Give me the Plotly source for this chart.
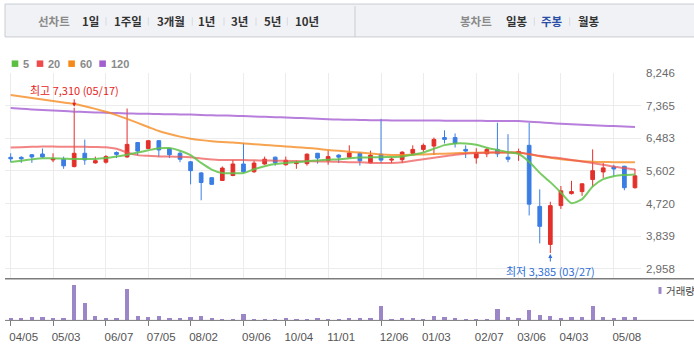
import plotly.graph_objects as go

# ---- weekly price data (won) ----
opens = [5970, 5970, 6040, 6060, 5900, 5920, 5720, 6080, 5820, 5840,
         6100, 5980, 6370, 6210, 6420, 6210, 6080, 5850, 5550, 5420,
         5345, 5480, 5790, 5580, 5790, 5975, 5770, 5800, 5800, 6080,
         5880, 6030, 5975, 6080, 5825, 6055, 5895, 5905, 6080, 6185,
         6275, 6505, 6505, 6185, 5955, 6065, 6185, 5975, 6080, 6295,
         4645, 3615, 4665, 4990, 5045, 5370, 5575, 5710, 5730, 5150]
highs = [6080, 6000, 6060, 6210, 6080, 5990, 7310, 6450, 5990, 6030,
         6130, 7290, 6380, 6430, 6440, 6220, 6130, 5870, 5570, 5430,
         5725, 5900, 6350, 5880, 5990, 5990, 5990, 5880, 6080, 6090,
         6150, 6055, 6295, 6115, 6150, 7010, 5975, 6135, 6295, 6345,
         6505, 6700, 6615, 6295, 6215, 6235, 6905, 6595, 6205, 6905,
         5105, 4770, 5195, 5335, 5265, 6185, 5815, 5770, 5740, 5655]
lows = [5840, 5820, 5820, 5950, 5840, 5660, 5700, 5770, 5800, 5800,
        5950, 5960, 6020, 6200, 5990, 5950, 5840, 5240, 4810, 5230,
        5330, 5460, 5550, 5550, 5770, 5745, 5745, 5660, 5745, 5800,
        5770, 5815, 5950, 5745, 5810, 5815, 5815, 5815, 6020, 6115,
        6035, 6345, 6235, 5950, 5800, 5975, 5975, 5840, 5875, 4400,
        3645, 3385, 4575, 4965, 4930, 5175, 5415, 5460, 5080, 5125]
closes = [5930, 5930, 5980, 5980, 5930, 5740, 6080, 5900, 5880, 5990,
          6050, 6320, 6140, 6420, 6170, 6040, 5920, 5610, 5290, 5240,
          5680, 5790, 5580, 5815, 5920, 5825, 5890, 5820, 6055, 5950,
          5990, 5975, 6090, 5875, 6030, 5895, 5920, 6110, 6185, 6295,
          6455, 6455, 6345, 6140, 6100, 6185, 6065, 5920, 6125, 4705,
          4105, 4665, 5065, 5045, 5255, 5610, 5685, 5655, 5150, 5470]

# ---- weekly volume (shares) ----
volumes = [82000, 78000, 118000, 125000, 84000, 90000, 1440000, 720000, 165000, 86000,
           80000, 1290000, 158000, 120000, 162000, 88000, 84000, 122000, 160000, 80000,
           45000, 42000, 245000, 48000, 44000, 46000, 82000, 40000, 44000, 86000,
           42000, 40000, 84000, 80000, 82000, 600000, 44000, 82000, 86000, 46000,
           160000, 122000, 84000, 40000, 42000, 44000, 445000, 118000, 84000, 400000,
           205000, 160000, 80000, 122000, 118000, 600000, 125000, 82000, 120000, 118000]

# ---- moving averages ----
ma5 = [5845, 5880, 5915, 5945, 5945, 5935, 5925, 5925, 5925, 5950,
       5990, 6040, 6100, 6160, 6215, 6220, 6150, 6030, 5820, 5640,
       5545, 5540, 5545, 5650, 5730, 5790, 5815, 5840, 5865, 5885,
       5905, 5920, 5945, 5965, 5970, 5975, 5980, 5995, 6040, 6100,
       6200, 6300, 6345, 6345, 6310, 6230, 6170, 6110, 6060, 5850,
       5550, 5300, 5020, 4730, 4840, 5180, 5380, 5460, 5490, 5505]
ma20 = [6235, 6245, 6255, 6260, 6260, 6255, 6255, 6255, 6250, 6240,
        6200, 6100, 6030, 6010, 5995, 5990, 5985, 5970, 5940, 5915,
        5895, 5900, 5895, 5890, 5885, 5880, 5875, 5870, 5865, 5860,
        5855, 5850, 5840, 5835, 5820, 5815, 5815, 5835, 5880, 5920,
        5960, 6000, 6040, 6070, 6085, 6095, 6100, 6100, 6100, 6060,
        6010, 5975, 5945, 5900, 5855, 5815, 5770, 5720, 5680, 5640]
ma60 = [7655, 7615, 7575, 7535, 7495, 7450, 7410, 7350, 7280, 7200,
        7110, 7010, 6900, 6790, 6680, 6600, 6530, 6475, 6435, 6405,
        6385, 6370, 6345, 6325, 6305, 6285, 6265, 6245, 6225, 6200,
        6170, 6145, 6120, 6100, 6075, 6050, 6035, 6030, 6040, 6050,
        6060, 6070, 6080, 6090, 6095, 6100, 6100, 6100, 6100, 6050,
        6000, 5960, 5920, 5890, 5865, 5850, 5845, 5840, 5838, 5835]
ma120 = [7300, 7285, 7265, 7250, 7235, 7220, 7205, 7195, 7185, 7175,
         7165, 7155, 7150, 7145, 7140, 7135, 7130, 7125, 7115, 7105,
         7100, 7095, 7085, 7075, 7065, 7055, 7045, 7035, 7025, 7010,
         7000, 6990, 6985, 6980, 6975, 6970, 6968, 6966, 6965, 6964,
         6963, 6962, 6960, 6958, 6956, 6955, 6953, 6951, 6950, 6935,
         6915, 6895, 6880, 6865, 6850, 6835, 6825, 6815, 6803, 6790]

# ---- axis labels ----
tick_idx = [0, 4, 9, 13, 17, 22, 26, 30, 35, 39, 44, 48, 52, 57]
tick_labels = ["04/05", "05/03", "06/07", "07/05", "08/02", "09/06", "10/04",
               "11/01", "12/06", "01/03", "02/07", "03/06", "04/03", "05/08"]
price_ticks = [2958, 3839, 4720, 5602, 6483, 7365, 8246]

high_idx, high_val, high_date = 6, 7310, "05/17"
low_idx, low_val, low_date = 51, 3385, "03/27"

W, H = 694, 344
def px(x):
    return x / W
def py(y):
    return 1 - y / H

RED = "#e3302a"
BLUE = "#3a7ee4"
NUM_FONT = "Liberation Sans, Arial, Noto Sans CJK KR"
KR_FONT = "Noto Sans CJK KR, Liberation Sans"

weeks = list(range(len(closes)))

fig = go.Figure()

ma_styles = [("5", ma5, "rgba(98,194,72,0.85)"),
             ("20", ma20, "rgba(236,80,80,0.7)"),
             ("60", ma60, "rgba(245,140,35,0.8)"),
             ("120", ma120, "rgba(165,95,210,0.8)")]
for name, vals, col in reversed(ma_styles):
    fig.add_trace(go.Scatter(x=weeks, y=vals, mode="lines", name=name,
                             line=dict(color=col, width=2, shape="spline", smoothing=0.6),
                             hoverinfo="skip", xaxis="x", yaxis="y"))

fig.add_trace(go.Candlestick(
    x=weeks, open=opens, high=highs, low=lows, close=closes,
    increasing=dict(line=dict(color=RED, width=1), fillcolor=RED),
    decreasing=dict(line=dict(color=BLUE, width=1), fillcolor=BLUE),
    whiskerwidth=0, hoverinfo="skip", xaxis="x", yaxis="y"))

fig.add_trace(go.Bar(x=weeks, y=volumes, width=0.4, marker=dict(color="#9b86c8", line=dict(width=0)),
                     hoverinfo="skip", xaxis="x2", yaxis="y2"))

xr = [-0.539, 59.57]
xdom = [px(5), px(641)]

shapes = [
    # header band
    dict(type="rect", xref="paper", yref="paper", x0=px(5), x1=px(700), y0=py(31.5), y1=py(-2),
         fillcolor="#f1f2f6", line=dict(color="#c9ccd2", width=1), layer="below"),
    dict(type="line", xref="paper", yref="paper", x0=px(355), x1=px(355), y0=py(31.5), y1=py(0),
         line=dict(color="#c9ccd2", width=1)),
    # panel lines
    dict(type="line", xref="paper", yref="paper", x0=px(5), x1=px(694), y0=py(277.5), y1=py(277.5),
         line=dict(color="#7c7c7c", width=1.5)),
    dict(type="line", xref="paper", yref="paper", x0=px(5), x1=px(694), y0=py(320), y1=py(320),
         line=dict(color="#7c7c7c", width=1)),
    # volume legend mark
    dict(type="rect", xref="paper", yref="paper", x0=px(658.5), x1=px(661.5), y0=py(293), y1=py(286),
         fillcolor="#9b86c8", line=dict(width=0)),
]

annotations = []

# header menu
def head(text, xc, color, bold=True, size=11.5):
    t = f"<b>{text}</b>" if bold else text
    annotations.append(dict(text=t, x=px(xc), y=py(15.5), xref="paper", yref="paper",
                            xanchor="center", yanchor="middle", showarrow=False,
                            font=dict(family=KR_FONT, size=size, color=color)))

head("선차트", 54, "#8a8a8a")
for t, xc in [("1일", 90.8), ("1주일", 128.3), ("3개월", 170.8), ("1년", 206.3),
              ("3년", 239.7), ("5년", 272.2), ("10년", 307.2)]:
    head(t, xc, "#333333")
head("봉차트", 476.2, "#8a8a8a")
head("일봉", 516.7, "#333333")
head("주봉", 552, "#2b4fa6")
head("월봉", 588.7, "#333333")
for sx in [106, 148.3, 192.3, 224, 256, 287.3, 534.3, 569.7]:
    shapes.append(dict(type="line", xref="paper", yref="paper", x0=px(sx), x1=px(sx),
                       y0=py(20), y1=py(11.5), line=dict(color="#d8dadf", width=1)))

# moving-average legend
leg_cols = ["#5dbf3f", "#ef4b4b", "#f5891a", "#a35fce"]
leg_sq = [11.7, 36.7, 68.3, 99.3]
for (name, _, _), col, x0 in zip(ma_styles, leg_cols, leg_sq):
    shapes.append(dict(type="rect", xref="paper", yref="paper", x0=px(x0), x1=px(x0 + 6.6),
                       y0=py(62), y1=py(55.4), fillcolor=col, line=dict(width=0)))
    annotations.append(dict(text=f"<b>{name}</b>", x=px(x0 + 9.5), y=py(58.7), xref="paper", yref="paper",
                            xanchor="left", yanchor="middle", showarrow=False,
                            font=dict(family=NUM_FONT, size=11, color="#8a8a8a")))

annotations.append(dict(text="거래량", x=px(663.5), y=py(290), xref="paper", yref="paper",
                        xanchor="left", yanchor="middle", showarrow=False,
                        font=dict(family=KR_FONT, size=10.5, color="#444444")))

# highest / lowest markers
annotations.append(dict(text=f"최고 {high_val:,} ({high_date})", x=high_idx, y=high_val, xref="x", yref="y",
                        showarrow=True, ax=0, ay=-18, arrowhead=2, arrowsize=0.8, arrowwidth=1,
                        arrowcolor="#e8231b", standoff=1,
                        font=dict(family=KR_FONT, size=11, color="#e8231b")))
annotations.append(dict(text=f"최저 {low_val:,} ({low_date})", x=low_idx, y=low_val, xref="x", yref="y",
                        showarrow=True, ax=0, ay=18, arrowhead=2, arrowsize=0.8, arrowwidth=1,
                        arrowcolor="#2f6fd8", standoff=1,
                        font=dict(family=KR_FONT, size=11, color="#2f6fd8")))

fig.update_layout(
    width=W, height=H, autosize=False,
    margin=dict(l=0, r=0, t=0, b=0, pad=0),
    paper_bgcolor="white", plot_bgcolor="white",
    showlegend=False, boxgap=0.5, bargap=0,
    shapes=shapes, annotations=annotations,
    xaxis=dict(domain=xdom, range=xr, tickvals=tick_idx, showticklabels=False,
               showgrid=True, gridcolor="#ececec", gridwidth=1, zeroline=False,
               rangeslider=dict(visible=False), anchor="y", fixedrange=True),
    yaxis=dict(domain=[py(277.5), py(68.3)], range=[2692, 8246], side="right", anchor="x",
               tickvals=price_ticks, ticktext=[f"{v:,}" for v in price_ticks],
               showgrid=True, gridcolor="#ececec", gridwidth=1, zeroline=False,
               ticks="", ticklabelstandoff=4,
               tickfont=dict(family=NUM_FONT, size=11.5, color="#6a6a6a")),
    xaxis2=dict(domain=xdom, range=xr, tickvals=tick_idx, ticktext=tick_labels,
                showgrid=False, zeroline=False, anchor="y2", ticks="outside", ticklen=5,
                tickcolor="#7c7c7c", tickwidth=1, ticklabelshift=13, ticklabelstandoff=1,
                tickfont=dict(family=NUM_FONT, size=11.5, color="#555555")),
    yaxis2=dict(domain=[py(320), py(278)], range=[0, 1680000], anchor="x2",
                showgrid=False, zeroline=False, showticklabels=False, ticks=""),
)

fig.write_html("out.html")
